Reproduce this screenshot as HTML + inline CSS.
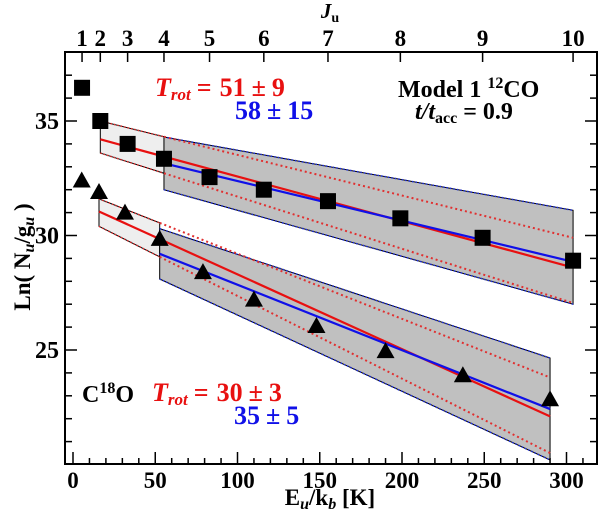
<!DOCTYPE html>
<html><head><meta charset="utf-8"><style>
body{margin:0;background:#fff}
svg text{font-family:"Liberation Serif",serif;font-weight:bold}
</style></head><body>
<svg id="c" width="600" height="518" xmlns="http://www.w3.org/2000/svg"></svg>
<script>
const jLevels=[1,2,3,4,5,6,7,8,9,10];
const energiesCO=[5.5,16.6,33.2,55.3,83,116,155,199,249,304];
const lnCO=[36.45,35.0,34.0,33.35,32.55,32.0,31.5,30.75,29.9,28.9];
const energiesC18O=[5.3,15.8,31.6,52.7,79,110,148,190,237,290];
const lnC18O=[32.4,31.9,31.0,29.85,28.4,27.2,26.05,24.95,23.9,22.85];
const xTicks=[0,50,100,150,200,250,300];
const yTicks=[25,30,35];
const coRedFit=[16.6,34.2,304,28.6];
const coBlueFit=[55.3,33.15,304,28.85];
const coRedUp=[16.6,35.0,304,29.9];
const coRedLo=[16.6,33.6,304,27.05];
const coBlueUp=[55.3,34.3,304,31.1];
const coBlueLo=[55.3,32.0,304,27.0];
const c18RedFit=[15.8,31.05,290,22.1];
const c18BlueFit=[52.7,29.2,290,22.42];
const c18RedUp=[15.8,31.6,290,23.8];
const c18RedLo=[15.8,30.4,290,20.5];
const c18BlueUp=[52.7,30.3,290,24.65];
const c18BlueLo=[52.7,28.1,290,20.2];

const X=e=>73+e*1.645, Y=v=>121+(35-v)*22.9;
const L=65,R=597,T=52,B=464;
const svg=document.getElementById('c');
const NS='http://www.w3.org/2000/svg';
function el(tag,attrs,name,txt){const e=document.createElementNS(NS,tag);for(const k in attrs)e.setAttribute(k,attrs[k]);


if(txt!==undefined)e.textContent=txt;svg.appendChild(e);return e;}
function at(l,e){return l[1]+(l[3]-l[1])*(e-l[0])/(l[2]-l[0]);}
function band(up,lo,e1,e2,fill,stroke,name){
 const p=[[X(e1),Y(at(up,e1))],[X(e2),Y(at(up,e2))],[X(e2),Y(at(lo,e2))],[X(e1),Y(at(lo,e1))]];
 el('polygon',{points:p.map(q=>q.join(',')).join(' '),fill:fill,stroke:'#000','stroke-width':1},name);
 el('line',{x1:p[0][0],y1:p[0][1],x2:p[1][0],y2:p[1][1],stroke:stroke,'stroke-width':1.5,'stroke-dasharray':'1.5,2'},name+'-top');
 el('line',{x1:p[3][0],y1:p[3][1],x2:p[2][0],y2:p[2][1],stroke:stroke,'stroke-width':1.5,'stroke-dasharray':'1.5,2'},name+'-bottom');
}
function line(l,col,w,name,dash){const a={x1:X(l[0]),y1:Y(l[1]),x2:X(l[2]),y2:Y(l[3]),stroke:col,'stroke-width':w};if(dash)a['stroke-dasharray']=dash;el('line',a,name);}
band(coRedUp,coRedLo,coRedUp[0],coBlueUp[0],'#eeeeee','#e03030','co-light-band');
band(coBlueUp,coBlueLo,coBlueUp[0],coBlueUp[2],'#c0c0c0','#2030e0','co-dark-band');
line([coBlueUp[0],at(coRedUp,coBlueUp[0]),304,coRedUp[3]],'#e03030',2,'co-red-upper-dotted','2,3');
line([coBlueUp[0],at(coRedLo,coBlueUp[0]),304,coRedLo[3]],'#e03030',2,'co-red-lower-dotted','2,3');
band(c18RedUp,c18RedLo,c18RedUp[0],c18BlueUp[0],'#eeeeee','#e03030','c18o-light-band');
band(c18BlueUp,c18BlueLo,c18BlueUp[0],c18BlueUp[2],'#c0c0c0','#2030e0','c18o-dark-band');
line([c18BlueUp[0],at(c18RedUp,c18BlueUp[0]),290,c18RedUp[3]],'#e03030',2,'c18o-red-upper-dotted','2,3');
line([c18BlueUp[0],at(c18RedLo,c18BlueUp[0]),290,c18RedLo[3]],'#e03030',2,'c18o-red-lower-dotted','2,3');
line(coRedFit,'#e81010',2.2,'co-red-fit');
line(coBlueFit,'#1010e8',2.2,'co-blue-fit');
line(c18RedFit,'#e81010',2.2,'c18o-red-fit');
line(c18BlueFit,'#1010e8',2.2,'c18o-blue-fit');
energiesCO.forEach((e,i)=>{el('rect',{x:X(e)-8,y:Y(lnCO[i])-8,width:16,height:16,fill:'#000'},'co-point-j'+jLevels[i]);});
energiesC18O.forEach((e,i)=>{const x=X(e),y=Y(lnC18O[i]);el('polygon',{points:`${x},${y-9} ${x-9},${y+7} ${x+9},${y+7}`,fill:'#000'},'c18o-point-j'+jLevels[i]);});
el('rect',{x:L,y:T,width:R-L,height:B-T,fill:'none',stroke:'#000','stroke-width':2},'plot-frame');
for(let v=0;v<=315;v+=10){const x=X(v),maj=v%50===0;
 el('line',{x1:x,y1:B,x2:x,y2:B-(maj?12:6),stroke:'#000','stroke-width':1.5},'x-tick');}
xTicks.forEach(v=>el('text',{x:X(v),y:B+24,'text-anchor':'middle','font-size':23},'x-tick-label',String(v)));
for(let v=21;v<=37;v++){const y=Y(v),maj=v%5===0;
 el('line',{x1:L,y1:y,x2:L+(maj?12:7),y2:y,stroke:'#000','stroke-width':1.5},'y-tick-left');
 el('line',{x1:R,y1:y,x2:R-(maj?12:7),y2:y,stroke:'#000','stroke-width':1.5},'y-tick-right');}
yTicks.forEach(v=>el('text',{x:L-6,y:Y(v)+8,'text-anchor':'end','font-size':24},'y-tick-label',String(v)));
jLevels.forEach((j,i)=>{const x=X(energiesCO[i]);
 el('line',{x1:x,y1:T,x2:x,y2:T+10,stroke:'#000','stroke-width':1.5},'top-tick');
 el('text',{x:x,y:T-6,'text-anchor':'middle','font-size':23},'top-tick-label',String(j));});
</script>
<svg width="600" height="518" style="position:absolute;left:0;top:0">
<g font-family="Liberation Serif, serif" font-weight="bold">
<text x="330" y="18" font-size="21" text-anchor="middle"><tspan font-style="italic">J</tspan><tspan font-size="14" dy="4">u</tspan></text>
<text x="330" y="505" font-size="23" text-anchor="middle">E<tspan font-size="16" dy="4" font-style="italic">u</tspan><tspan dy="-4">/k</tspan><tspan font-size="16" dy="4" font-style="italic">b</tspan><tspan dy="-4"> [K]</tspan></text>
<text transform="translate(30,257) rotate(-90)" font-size="23" text-anchor="middle">Ln( N<tspan font-size="16" dy="4" font-style="italic">u</tspan><tspan dy="-4">/g</tspan><tspan font-size="16" dy="4" font-style="italic">u</tspan><tspan dy="-4"> )</tspan></text>
<text x="155" y="96" font-size="26" fill="#e81010"><tspan font-style="italic">T</tspan><tspan font-size="17" dy="4" font-style="italic">rot</tspan><tspan dy="-4" dx="6">=</tspan><tspan dx="8">51</tspan><tspan dx="6">±</tspan><tspan dx="6">9</tspan></text>
<text x="235" y="119" font-size="26" fill="#1010e8">58<tspan dx="6">±</tspan><tspan dx="6">15</tspan></text>
<text x="398" y="97" font-size="24">Model 1 <tspan font-size="16" dy="-9">12</tspan><tspan dy="9">CO</tspan></text>
<text x="415" y="119" font-size="24"><tspan font-style="italic">t/t</tspan><tspan font-size="16" dy="4">acc</tspan><tspan dy="-4" dx="6">=</tspan><tspan dx="6">0.9</tspan></text>
<text x="82" y="402" font-size="24">C<tspan font-size="16" dy="-9">18</tspan><tspan dy="9">O</tspan></text>
<text x="152" y="401" font-size="26" fill="#e81010"><tspan font-style="italic">T</tspan><tspan font-size="17" dy="4" font-style="italic">rot</tspan><tspan dy="-4" dx="6">=</tspan><tspan dx="8">30</tspan><tspan dx="6">±</tspan><tspan dx="6">3</tspan></text>
<text x="234" y="424" font-size="26" fill="#1010e8">35<tspan dx="6">±</tspan><tspan dx="6">5</tspan></text>
</g></svg>
</body></html>
